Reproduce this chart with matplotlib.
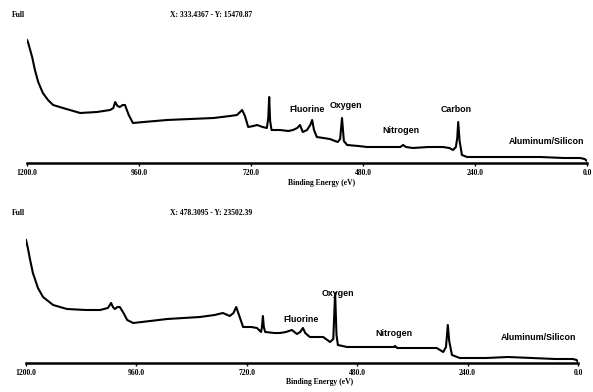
import matplotlib.pyplot as plt

W, H = 593, 392

# survey spectrum 1 (binding energy in eV, intensity in arbitrary units)
be_top = [1200, 1198, 1189, 1183, 1176, 1166, 1155, 1144, 1123, 1086,
          1050, 1022, 1015, 1011, 1006, 1001, 995, 990, 982, 973,
          950, 900, 850, 800, 765, 750, 739, 733, 726, 715,
          707, 695, 686, 683, 681, 679, 676, 673, 658, 640,
          630, 621, 615, 609, 600, 593, 589, 585, 579, 565,
          551, 540, 534, 529, 525, 521, 514, 490, 471, 430,
          400, 394, 388, 373, 340, 309, 295, 287, 281, 278,
          276, 273, 268, 257, 220, 159, 100, 50, 15, 5, 0]
int_top = [123, 121, 106, 93, 81, 70, 63, 58, 55, 50,
           51, 53, 55, 61, 57, 56, 58, 58, 48, 40,
           41, 43, 44, 45, 47, 48, 53, 47, 36, 37,
           38, 36, 35, 45, 66, 42, 33, 33, 33, 32,
           33, 35, 38, 31, 33, 38, 43, 33, 26, 25,
           24, 22, 21, 24, 45, 22, 18, 17, 16, 16,
           16, 18, 16, 15, 16, 16, 15, 13, 16, 25,
           41, 22, 8, 6, 6, 6, 6, 5, 5, 4, 2]

# survey spectrum 2
be_bot = [1200, 1196, 1191, 1185, 1174, 1163, 1141, 1111, 1070, 1039,
          1022, 1015, 1011, 1007, 1001, 996, 988, 980, 967, 930,
          893, 822, 790, 772, 757, 749, 743, 737, 728, 710,
          698, 689, 687, 685, 683, 680, 660, 648, 635, 622,
          611, 604, 598, 593, 583, 554, 539, 532, 528, 525,
          522, 502, 450, 400, 398, 393, 387, 340, 307, 293,
          287, 283, 280, 274, 257, 200, 152, 100, 50, 11, 3, 0]
int_bot = [123, 115, 103, 90, 75, 66, 58, 54, 53, 53,
           55, 60, 56, 54, 56, 56, 50, 43, 40, 42,
           44, 46, 48, 50, 47, 50, 56, 48, 36, 36,
           35, 31, 36, 47, 36, 31, 30, 30, 31, 33,
           29, 31, 35, 30, 26, 26, 21, 24, 70, 28,
           18, 16, 16, 16, 17, 15, 15, 15, 15, 11,
           16, 38, 22, 8, 5, 5, 6, 5, 4, 4, 3, 1]

ticks = [1200, 960, 720, 480, 240, 0]

labels_top = ["Fluorine", "Oxygen", "Nitrogen", "Carbon", "Aluminum/Silicon"]
labels_bot = ["Fluorine", "Oxygen", "Nitrogen", "Aluminum/Silicon"]
header_top = "X: 333.4367 - Y: 15470.87"
header_bot = "X: 478.3095 - Y: 23502.39"

# label anchor positions (eV, intensity)
pos_top = [(600, 54), (516, 58), (399, 33), (281, 54), (86, 22)]
pos_bot = [(602, 44), (522, 69), (400, 30), (85, 26)]

serif = ['Liberation Serif', 'DejaVu Serif']
narrow = ['Liberation Sans Narrow', 'Liberation Sans', 'DejaVu Sans']


def fx(x):
    return x / W


def fy(y):
    return 1 - y / H


def draw_panel(fig, rect, be, inten, names, positions):
    ax = fig.add_axes(rect)
    ax.plot(be, inten, color='black', lw=1.5, solid_joinstyle='round')
    ax.set_xlim(1200, 0)
    ax.set_ylim(0, 128)
    for s in ['top', 'left', 'right']:
        ax.spines[s].set_visible(False)
    ax.spines['bottom'].set_linewidth(1.8)
    ax.set_yticks([])
    ax.set_xticks(ticks)
    ax.set_xticklabels([f"{t:.1f}" for t in ticks], fontsize=5.5,
                       fontweight='bold', family=serif)
    ax.tick_params(axis='x', direction='out', length=2.5, width=1, pad=2)
    ax.set_facecolor('none')
    for name, (x, y) in zip(names, positions):
        ax.text(x, y, name, ha='center', va='center', fontsize=6.4,
                fontweight='bold', family=narrow)
    return ax


fig = plt.figure(figsize=(W / 100, H / 100), dpi=100)

# upper panel
draw_panel(fig, [fx(27), fy(163), fx(587 - 27), (163 - 35) / H],
           be_top, int_top, labels_top, pos_top)
fig.text(fx(12), fy(15), "Full", fontsize=5.5, fontweight='bold',
         family=serif, va='center')
fig.text(fx(252), fy(15), header_top, fontsize=5.5, fontweight='bold',
         family=serif, ha='right', va='center')
fig.text(fx(322), fy(183), "Binding Energy (eV)", fontsize=5.5,
         fontweight='bold', family=serif, ha='center', va='center')

# lower panel
draw_panel(fig, [fx(26), fy(363), fx(578 - 26), (363 - 235) / H],
           be_bot, int_bot, labels_bot, pos_bot)
fig.text(fx(12), fy(213), "Full", fontsize=5.5, fontweight='bold',
         family=serif, va='center')
fig.text(fx(252), fy(213), header_bot, fontsize=5.5, fontweight='bold',
         family=serif, ha='right', va='center')
fig.text(fx(320), fy(382), "Binding Energy (eV)", fontsize=5.5,
         fontweight='bold', family=serif, ha='center', va='center')

fig.savefig("out.png", dpi=100)
